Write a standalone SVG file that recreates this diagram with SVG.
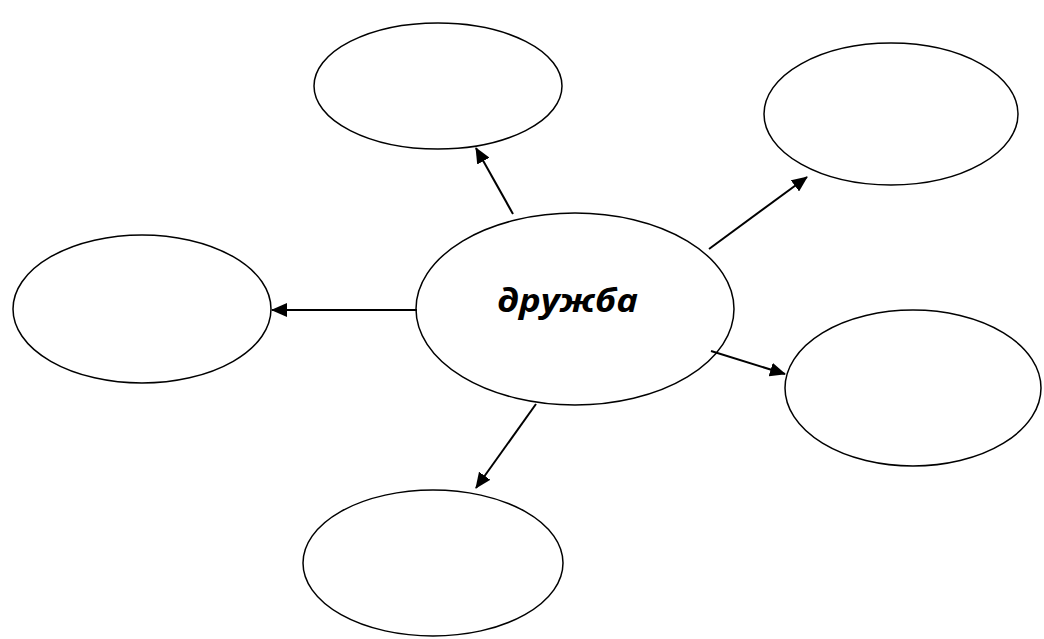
<svg xmlns="http://www.w3.org/2000/svg" width="1044" height="639" viewBox="0 0 1044 639">
<style>
.node{fill:#fff;stroke:#000;stroke-width:1.5}
.conn{stroke:#000;stroke-width:2;fill:none}
.lbl{font-family:"Open Sans","Noto Sans",sans-serif;font-weight:bold;font-style:italic;font-size:32px;fill:#000}
</style>
<defs>
<marker id="arr" markerWidth="16" markerHeight="14" refX="15" refY="7" orient="auto" markerUnits="userSpaceOnUse">
<path d="M0,0 L16,7 L0,14 Z" fill="#000"/>
</marker>
</defs>
<rect width="1044" height="639" fill="#fff"/>
<g id="center"><ellipse class="node" cx="575" cy="309" rx="159" ry="96"/><text class="lbl" x="497" y="312" textLength="141" lengthAdjust="spacingAndGlyphs">дружба</text></g>
<g id="top"><ellipse class="node" cx="438" cy="86" rx="124" ry="63"/></g>
<g id="topright"><ellipse class="node" cx="891" cy="114" rx="127" ry="71"/></g>
<g id="left"><ellipse class="node" cx="142" cy="309" rx="129" ry="74"/></g>
<g id="right"><ellipse class="node" cx="913" cy="388" rx="128" ry="78"/></g>
<g id="bottom"><ellipse class="node" cx="433" cy="563" rx="130" ry="73"/></g>
<g id="connectors">
<line class="conn" x1="513" y1="214" x2="476" y2="148" marker-end="url(#arr)"/>
<line class="conn" x1="709" y1="249" x2="807" y2="177" marker-end="url(#arr)"/>
<line class="conn" x1="417" y1="310" x2="272" y2="310" marker-end="url(#arr)"/>
<line class="conn" x1="711" y1="351" x2="785" y2="374" marker-end="url(#arr)"/>
<line class="conn" x1="536" y1="404" x2="476" y2="488" marker-end="url(#arr)"/>
</g>
</svg>
